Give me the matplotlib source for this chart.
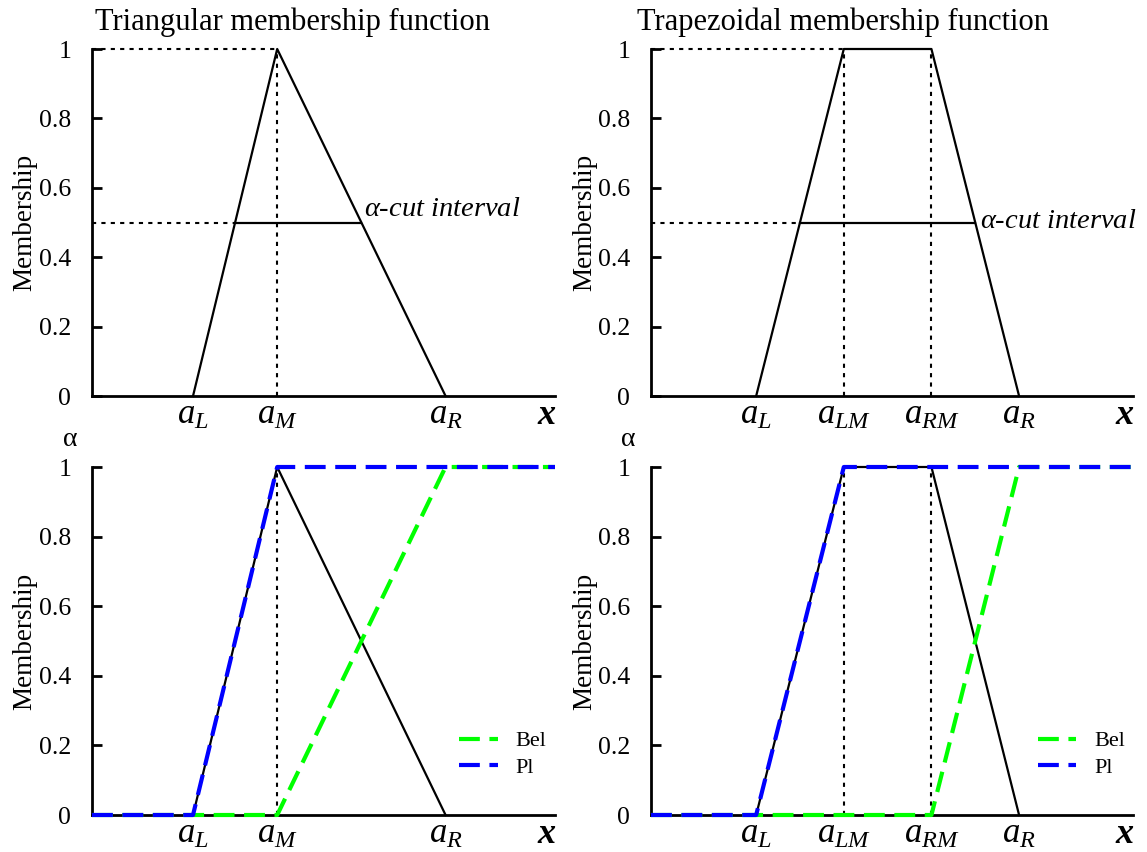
import numpy as np
import matplotlib
matplotlib.use("Agg")
import matplotlib.pyplot as plt

plt.rcParams['font.family'] = ['Liberation Serif', 'DejaVu Serif']
plt.rcParams['mathtext.fontset'] = 'custom'
plt.rcParams['mathtext.rm'] = 'Liberation Serif'
plt.rcParams['mathtext.it'] = 'Liberation Serif:italic'
plt.rcParams['mathtext.bf'] = 'Liberation Serif:bold:italic'

# support points on the x axis
tri_pts = [1.2, 2.2, 4.2]          # aL, aM, aR
trap_pts = [1.2, 2.2, 3.2, 4.2]    # aL, aLM, aRM, aR
x_max = 5.5
alpha = 0.5

tri_labels = ['$a_L$', '$a_M$', '$a_R$']
trap_labels = ['$a_L$', '$a_{LM}$', '$a_{RM}$', '$a_R$']
y_ticks = [0, 0.2, 0.4, 0.6, 0.8, 1]
y_ticklabels = ['0', '0.2', '0.4', '0.6', '0.8', '1']

# membership curves
tri_x = [tri_pts[0], tri_pts[1], tri_pts[2]]
tri_y = [0, 1, 0]
trap_x = [trap_pts[0], trap_pts[1], trap_pts[2], trap_pts[3]]
trap_y = [0, 1, 1, 0]

# belief / plausibility (bottom row)
tri_pl_x = [0, tri_pts[0], tri_pts[1], x_max]
tri_pl_y = [0, 0, 1, 1]
tri_bel_x = [0, tri_pts[1], tri_pts[2], x_max]
tri_bel_y = [0, 0, 1, 1]
trap_pl_x = [0, trap_pts[0], trap_pts[1], x_max]
trap_pl_y = [0, 0, 1, 1]
trap_bel_x = [0, trap_pts[2], trap_pts[3], x_max]
trap_bel_y = [0, 0, 1, 1]

W, H = 1147, 852
fig = plt.figure(figsize=(W/100, H/100), dpi=100)

def box(l, t, r, b):
    return [l/W, 1-b/H, (r-l)/W, (b-t)/H]

ax_tl = fig.add_axes(box(92, 49, 555, 396))
ax_bl = fig.add_axes(box(92, 467, 555, 815))
ax_tr = fig.add_axes(box(651, 49, 1133, 396))
ax_br = fig.add_axes(box(651, 467, 1133, 815))

dash = (0, (5, 2.3))

def style(ax, xt, xl, lab_x):
    ax.set_xlim(0, x_max)
    ax.set_ylim(0, 1)
    for s in ['top', 'right']:
        ax.spines[s].set_visible(False)
    for s in ['left', 'bottom']:
        ax.spines[s].set_linewidth(2)
    ax.set_yticks(y_ticks)
    ax.set_yticklabels(y_ticklabels, fontsize=18.5)
    ax.tick_params(axis='y', direction='in', length=7.5, width=2, pad=15)
    ax.set_xticks(xt)
    ax.set_xticklabels(xl, fontsize=25)
    ax.tick_params(axis='x', length=0, pad=2)
    ax.set_ylabel('Membership', fontsize=19.5)
    ax.yaxis.set_label_coords(lab_x, 0.5)
    ax.text(0.983, -0.055, r'$\mathbf{x}$', transform=ax.transAxes, fontsize=26,
            ha='center', va='center')

def dot(ax, x, y):
    ax.plot(x, y, color='black', linestyle=(0, (2, 2.5)), lw=1.5, clip_on=False)

def legend(ax):
    ax.legend(loc='lower right', bbox_to_anchor=(1.025, 0.05), frameon=False, fontsize=16,
              handlelength=1.75, handletextpad=0.8, labelspacing=0.25)

# top left: triangular
ax = ax_tl
style(ax, tri_pts, tri_labels, -0.119)
ax.set_title('Triangular membership function', fontsize=22, x=0.432, pad=14)
ax.plot(tri_x, tri_y, color='black', lw=1.6, clip_on=False)
xl = tri_pts[0] + alpha*(tri_pts[1]-tri_pts[0])
xr = tri_pts[2] - alpha*(tri_pts[2]-tri_pts[1])
ax.plot([xl, xr], [alpha, alpha], color='black', lw=1.6)
dot(ax, [0, xl], [alpha, alpha])
dot(ax, [0, tri_pts[1]], [1, 1])
dot(ax, [tri_pts[1], tri_pts[1]], [0, 1])
ax.text(xr + 0.03, alpha + 0.02, r'$\alpha$-cut interval', fontsize=20.5, style='italic',
        ha='left', va='baseline')

# top right: trapezoidal
ax = ax_tr
style(ax, trap_pts, trap_labels, -0.112)
ax.set_title('Trapezoidal membership function', fontsize=22, x=0.398, pad=14)
ax.plot(trap_x, trap_y, color='black', lw=1.6, clip_on=False)
xl = trap_pts[0] + alpha*(trap_pts[1]-trap_pts[0])
xr = trap_pts[3] - alpha*(trap_pts[3]-trap_pts[2])
ax.plot([xl, xr], [alpha, alpha], color='black', lw=1.6)
dot(ax, [0, xl], [alpha, alpha])
dot(ax, [0, trap_pts[1]], [1, 1])
dot(ax, [trap_pts[1], trap_pts[1]], [0, 1])
dot(ax, [trap_pts[2], trap_pts[2]], [0, 1])
ax.text(xr + 0.05, alpha - 0.015, r'$\alpha$-cut interval', fontsize=20.5, style='italic',
        ha='left', va='baseline')

# bottom left
ax = ax_bl
style(ax, tri_pts, tri_labels, -0.119)
ax.plot(tri_x, tri_y, color='black', lw=1.6, clip_on=False)
dot(ax, [tri_pts[1], tri_pts[1]], [0, 1])
ax.plot(tri_bel_x, tri_bel_y, color='#00ff00', lw=3, linestyle=dash, label='Bel',
        clip_on=False, zorder=3)
ax.plot(tri_pl_x, tri_pl_y, color='#0000ff', lw=3, linestyle=dash, label='Pl',
        clip_on=False, zorder=3)
legend(ax)
ax.text(-0.047, 1.078, 'α', transform=ax.transAxes, fontsize=20, ha='center', va='center')

# bottom right
ax = ax_br
style(ax, trap_pts, trap_labels, -0.112)
ax.plot(trap_x, trap_y, color='black', lw=1.6, clip_on=False)
dot(ax, [trap_pts[1], trap_pts[1]], [0, 1])
dot(ax, [trap_pts[2], trap_pts[2]], [0, 1])
ax.plot(trap_bel_x, trap_bel_y, color='#00ff00', lw=3, linestyle=dash, label='Bel',
        clip_on=False, zorder=3)
ax.plot(trap_pl_x, trap_pl_y, color='#0000ff', lw=3, linestyle=dash, label='Pl',
        clip_on=False, zorder=3)
legend(ax)
ax.text(-0.047, 1.078, 'α', transform=ax.transAxes, fontsize=20, ha='center', va='center')

fig.savefig('out.png', dpi=100)
